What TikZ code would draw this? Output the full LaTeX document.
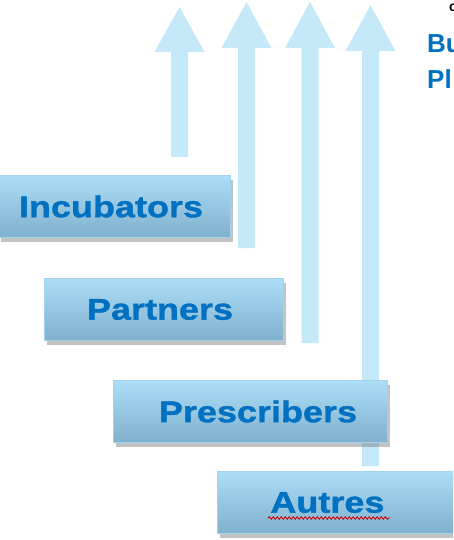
\documentclass[tikz,border=0pt]{standalone}
\usepackage{fontspec}
\setmainfont{Liberation Sans}
\newfontfamily\stagefont[FakeStretch=1.2,FakeBold=1.2]{Liberation Sans}
\usepackage{tikz}
\usetikzlibrary{shadows,decorations.pathmorphing}
\definecolor{arrowblue}{RGB}{198,233,250}
\definecolor{boxtop}{RGB}{172,222,248}
\definecolor{boxbot}{RGB}{128,176,204}
\definecolor{boxline}{RGB}{160,212,238}
\definecolor{textblue}{RGB}{0,112,192}
% block arrow: centre x, tip y, head base y, bottom y
\newcommand{\uparrowblock}[4]{%
  \fill[arrowblue] (#1-8.5,#4) -- (#1-8.5,#3) -- (#1-25,#3) -- (#1,#2)
    -- (#1+25,#3) -- (#1+8.5,#3) -- (#1+8.5,#4) -- cycle;}

\begin{document}
\begin{tikzpicture}[
    x=1pt,y=-1pt,
    stage/.style={draw=boxline,line width=0.8pt,top color=boxtop,bottom color=boxbot,
      minimum height=62pt,inner sep=0pt,text=textblue,
      font=\stagefont\bfseries\fontsize{30}{30}\selectfont,
      drop shadow={shadow xshift=3pt,shadow yshift=-4pt,opacity=0.4,fill=black!60}},
    side/.style={anchor=west,text=textblue,inner sep=0pt,
      font=\bfseries\fontsize{26}{26}\selectfont}
    ]
    \useasboundingbox (0,0) rectangle (453,540);
    \clip (0,0) rectangle (453,540);
    \uparrowblock{179.5}{7}{52}{157}
    \uparrowblock{246.5}{2}{48}{248}
    \uparrowblock{310}{2}{48}{343}
    \uparrowblock{370.5}{5}{51}{466}
    \node[stage,minimum width=232pt] (incub) at (114,206.5) {\hspace*{-6pt}Incubators};
    \node[stage,minimum width=239pt] (partn) at (163.5,309.5) {\hspace*{-7pt}Partners};
    \node[stage,minimum width=274pt] (presc) at (250,411.5) {\hspace*{16pt}Prescribers};
    \node[stage,minimum width=263pt,anchor=west] (autres) at (217,502.5) {\hspace*{-43pt}Autres};
    \draw[red!85!black,line width=0.9pt,decorate,decoration={snake,amplitude=1.2pt,segment length=4pt}]
      (268,518) -- (390,518);
    \node[side] (bu) at (427,44) {Bu};
    \node[side] (pl) at (427,79) {Pl};
    \node[anchor=west,inner sep=0pt,font=\bfseries\fontsize{14}{14}\selectfont] (top) at (449,8) {c};
  \end{tikzpicture}
\end{document}
